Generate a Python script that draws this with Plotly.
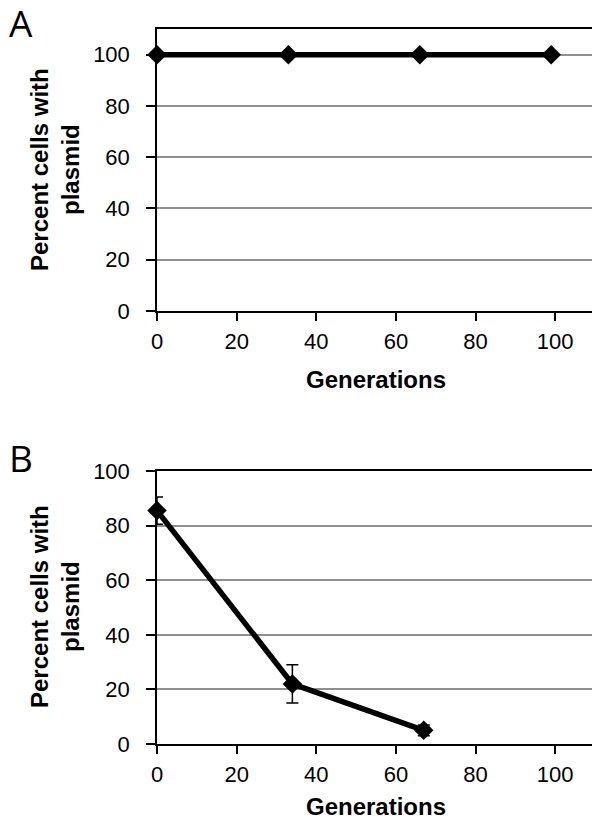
import plotly.graph_objects as go

# ---- data ----
generations_a = [0, 33, 66, 99]
percent_a = [100, 100, 100, 100]

generations_b = [0, 34, 67]
percent_b = [85.5, 22, 5]
error_b = [5, 7, 2]

x_ticks = [0, 20, 40, 60, 80, 100]
y_ticks = [0, 20, 40, 60, 80, 100]

# page has an 8px body margin; the figure is sized to fill the rest
OFF = 8
W, H = 600 - OFF, 819 - OFF
FONT = "Liberation Sans, Arial, sans-serif"

def px(p):
    return (p - OFF) / W

def py(p):
    return 1 - (p - OFF) / H

fig = go.Figure()

fig.add_trace(go.Scatter(
    x=generations_a, y=percent_a, mode="lines+markers",
    line=dict(color="black", width=5.5),
    marker=dict(symbol="diamond", size=15, color="black"),
    cliponaxis=False, xaxis="x", yaxis="y", showlegend=False,
))

fig.add_trace(go.Scatter(
    x=generations_b, y=percent_b, mode="lines+markers",
    line=dict(color="black", width=5.5),
    marker=dict(symbol="diamond", size=15, color="black"),
    error_y=dict(type="data", array=error_b, visible=True,
                 color="black", thickness=1.5, width=6),
    cliponaxis=False, xaxis="x2", yaxis="y2", showlegend=False,
))

xdom = [px(157), px(595)]
common_x = dict(
    range=[0, 110], tickvals=x_ticks, ticks="outside", ticklen=8, tickwidth=1.5,
    tickcolor="black", showline=True, linecolor="black", linewidth=1.5,
    mirror=True, showgrid=False, zeroline=False, domain=xdom, automargin=False,
    tickfont=dict(family=FONT, size=22, color="black"), ticklabelstandoff=2,
)
common_y = dict(
    tickvals=y_ticks, ticks="outside", ticklen=9, tickwidth=1.5,
    tickcolor="black", showline=True, linecolor="black", linewidth=1.5,
    mirror=True, showgrid=True, gridcolor="#8f8f8f", gridwidth=1.5,
    zeroline=False, automargin=False,
    tickfont=dict(family=FONT, size=22, color="black"), ticklabelstandoff=12,
)

fig.update_layout(
    width=W, height=H, autosize=False,
    margin=dict(l=0, r=0, t=0, b=0, pad=0),
    paper_bgcolor="white", plot_bgcolor="white",
    xaxis=dict(**common_x, anchor="y"),
    yaxis=dict(**common_y, range=[0, 110], domain=[py(311), py(29)], anchor="x"),
    xaxis2=dict(**common_x, anchor="y2"),
    yaxis2=dict(**common_y, range=[0, 100], domain=[py(744), py(471)], anchor="x2"),
)

ann = []
title_font = dict(family=FONT, size=24, color="black")
for ycenter in [170, 607]:
    ann.append(dict(
        text="<b>Percent cells with<br>plasmid</b>", x=px(55), y=py(ycenter),
        xref="paper", yref="paper", textangle=-90, showarrow=False,
        xanchor="center", yanchor="middle", font=title_font,
    ))
for ycenter in [380, 806]:
    ann.append(dict(
        text="<b>Generations</b>", x=px(376), y=py(ycenter),
        xref="paper", yref="paper", showarrow=False,
        xanchor="center", yanchor="middle", font=title_font,
    ))
letter_font = dict(family="Open Sans, sans-serif", size=37, color="black")
ann.append(dict(text="A", x=px(7), y=py(22), xref="paper", yref="paper",
                showarrow=False, xanchor="left", yanchor="middle", font=letter_font))
ann.append(dict(text="B", x=px(7), y=py(457), xref="paper", yref="paper",
                showarrow=False, xanchor="left", yanchor="middle", font=letter_font))
fig.update_layout(annotations=ann)

fig.write_html("out.html")
